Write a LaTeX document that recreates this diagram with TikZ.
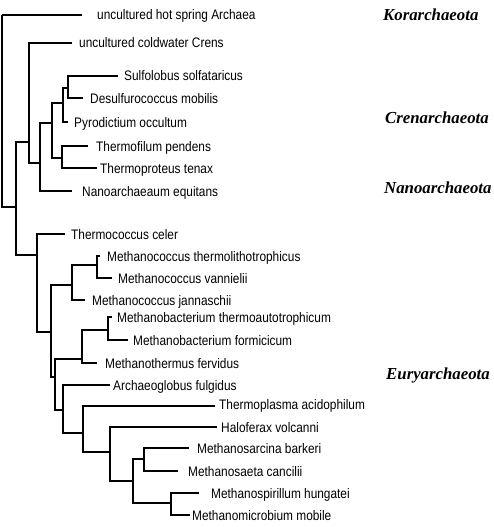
\documentclass[tikz,border=0pt]{standalone}
\usepackage{fontspec}
\newfontfamily\leaffont[FakeStretch=0.86]{Liberation Sans}
\newfontfamily\groupfont{Liberation Serif}

\begin{document}
\begin{tikzpicture}[x=1pt,y=-1pt,
		branch/.style={line width=2pt},
		taxon/.style={anchor=west,inner sep=0pt,text height=10pt,text depth=0pt,font=\leaffont\fontsize{13.8}{14}\selectfont},
		phylum/.style={anchor=west,inner sep=0pt,text height=11.5pt,text depth=0pt,font=\groupfont\bfseries\itshape\fontsize{16.8}{18}\selectfont}]
		\useasboundingbox (0,0) rectangle (494,527);
		%Inner nodes of the tree
		\coordinate (root) at (2,15);
		\coordinate (n1) at (16,207);
		\coordinate (n2) at (29,142);
		\coordinate (n3) at (40,163);
		\coordinate (cren) at (52,123);
		\coordinate (sdp) at (63,103);
		\coordinate (sd) at (68,88);
		\coordinate (tt) at (62,158);
		\coordinate (eury) at (37,255);
		\coordinate (na) at (51,332);
		\coordinate (mc) at (72,285);
		\coordinate (mtv) at (97,265);
		\coordinate (nb) at (55,377);
		\coordinate (mb) at (82,359);
		\coordinate (mbb) at (108,330);
		\coordinate (ng) at (63,410);
		\coordinate (nh) at (83,433);
		\coordinate (ni) at (110,452);
		\coordinate (nj) at (133,481);
		\coordinate (nk) at (144,459);
		\coordinate (nm) at (171,503);
		%Tips of the branches
		\coordinate (hotspring) at (82,15);
		\coordinate (coldwater) at (72,43);
		\coordinate (sulfolobus) at (118,76);
		\coordinate (desulfuro) at (83,98);
		\coordinate (pyrodictium) at (68,122);
		\coordinate (thermofilum) at (88,146);
		\coordinate (thermoproteus) at (97,168);
		\coordinate (nanoarch) at (72,191);
		\coordinate (thermococcus) at (65,234);
		\coordinate (mthermolitho) at (100,256);
		\coordinate (mvannielii) at (112,278);
		\coordinate (mjannaschii) at (85,300);
		\coordinate (mbthermo) at (112,317);
		\coordinate (mbformici) at (128,340);
		\coordinate (mfervidus) at (97,363);
		\coordinate (archaeoglobus) at (110,385);
		\coordinate (thermoplasma) at (215,406);
		\coordinate (haloferax) at (217,427);
		\coordinate (msarcina) at (189,448);
		\coordinate (msaeta) at (178,471);
		\coordinate (mspirillum) at (199,493);
		\coordinate (mmicrobium) at (190,515);
		%Branches
		\foreach \p/\c in {root/hotspring,root/n1,n1/n2,n1/eury,n2/coldwater,n2/n3,
			n3/cren,n3/nanoarch,cren/sdp,cren/tt,sdp/sd,sdp/pyrodictium,
			sd/sulfolobus,sd/desulfuro,tt/thermofilum,tt/thermoproteus,
			eury/thermococcus,eury/na,na/mc,na/nb,mc/mtv,mc/mjannaschii,
			mtv/mthermolitho,mtv/mvannielii,nb/mb,nb/ng,mb/mbb,mb/mfervidus,
			mbb/mbthermo,mbb/mbformici,ng/archaeoglobus,ng/nh,nh/thermoplasma,nh/ni,
			ni/haloferax,ni/nj,nj/nk,nj/nm,nk/msarcina,nk/msaeta,nm/mspirillum,nm/mmicrobium}
		\draw[branch] (\p) |- (\c);
		%Taxon names
		\node[taxon] (thotspring) at (97,15) {uncultured hot spring Archaea};
		\node[taxon] (tcoldwater) at (79,43) {uncultured coldwater Crens};
		\node[taxon] (tsulfolobus) at (124,76) {Sulfolobus solfataricus};
		\node[taxon] (tdesulfuro) at (90,98) {Desulfurococcus mobilis};
		\node[taxon] (tpyrodictium) at (74,122) {Pyrodictium occultum};
		\node[taxon] (tthermofilum) at (96,146) {Thermofilum pendens};
		\node[taxon] (tthermoproteus) at (100,168) {Thermoproteus tenax};
		\node[taxon] (tnanoarch) at (82,191) {Nanoarchaeaum equitans};
		\node[taxon] (tthermococcus) at (71,234) {Thermococcus celer};
		\node[taxon] (tmthermolitho) at (107,256) {Methanococcus thermolithotrophicus};
		\node[taxon] (tmvannielii) at (118,278) {Methanococcus vannielii};
		\node[taxon] (tmjannaschii) at (92,300) {Methanococcus jannaschii};
		\node[taxon] (tmbthermo) at (117,317) {Methanobacterium thermoautotrophicum};
		\node[taxon] (tmbformici) at (133,340) {Methanobacterium formicicum};
		\node[taxon] (tmfervidus) at (105,363) {Methanothermus fervidus};
		\node[taxon] (tarchaeoglobus) at (113,385) {Archaeoglobus fulgidus};
		\node[taxon] (tthermoplasma) at (219,404) {Thermoplasma acidophilum};
		\node[taxon] (thaloferax) at (221,427) {Haloferax volcanni};
		\node[taxon] (tmsarcina) at (197,448) {Methanosarcina barkeri};
		\node[taxon] (tmsaeta) at (188,471) {Methanosaeta cancilii};
		\node[taxon] (tmspirillum) at (211,493) {Methanospirillum hungatei};
		\node[taxon] (tmmicrobium) at (192,515) {Methanomicrobium mobile};
		%Phylum names
		\node[phylum] (kor) at (383,15) {Korarchaeota};
		\node[phylum] (crenname) at (385,118) {Crenarchaeota};
		\node[phylum] (nano) at (384,188) {Nanoarchaeota};
		\node[phylum] (euryname) at (386,374) {Euryarchaeota};
\end{tikzpicture}
\end{document}
